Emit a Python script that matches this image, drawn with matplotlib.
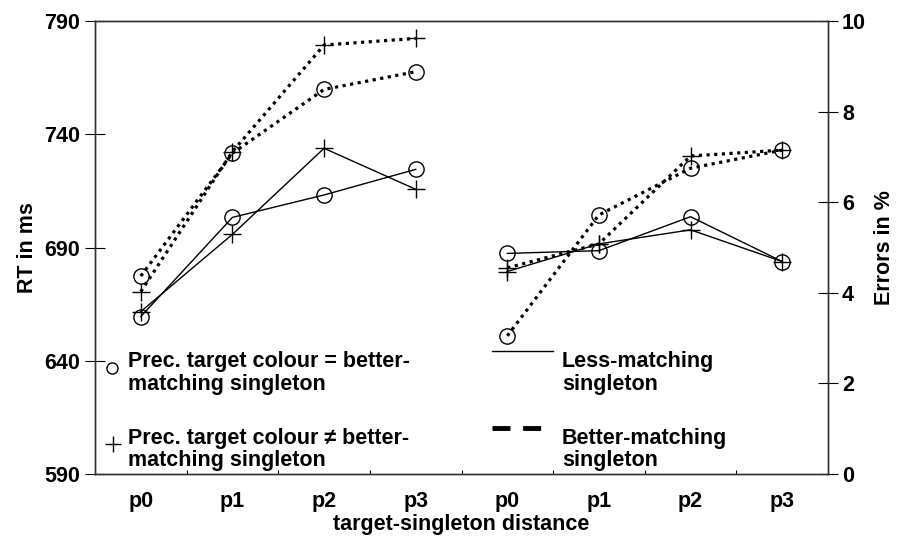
import matplotlib
matplotlib.use("Agg")
import matplotlib.pyplot as plt
from matplotlib.lines import Line2D
from matplotlib.ticker import FixedLocator

plt.rcParams['font.family'] = ['Liberation Sans', 'DejaVu Sans']
plt.rcParams['font.weight'] = 'bold'

# target-singleton distance, shown twice (RT block, then error block)
distances = ['p0', 'p1', 'p2', 'p3']
tick_labels = distances + distances

# RT in ms
rt_less_same = [659.5, 703.3, 713.2, 724.5]
rt_less_diff = [661.7, 695.8, 733.8, 715.7]
rt_better_same = [677.4, 731.6, 759.8, 767.6]
rt_better_diff = [670.5, 732.3, 779.4, 782.3]

# errors in %
err_less_same = [4.87, 4.93, 5.68, 4.69]
err_less_diff = [4.47, 5.08, 5.39, 4.69]
err_better_same = [3.05, 5.72, 6.75, 7.15]
err_better_diff = [4.55, 5.08, 7.02, 7.15]

x_rt = [0.5, 1.5, 2.5, 3.5]
x_err = [4.5, 5.5, 6.5, 7.5]

FS = 15.5

fig = plt.figure(figsize=(8.97, 5.42), dpi=100)
ax = fig.add_axes([95 / 897, 68 / 542, 733 / 897, 453 / 542])
ax2 = ax.twinx()

dotted = (0, (1.0, 1.4))
circ = dict(marker='o', ms=11, mfc='none', mec='black', mew=1.0)
plus = dict(marker='+', ms=13, mec='black', mew=1.0)

def draw(a, x, less_same, less_diff, better_same, better_diff):
    a.plot(x, less_same, color='black', lw=1.0, **circ)
    a.plot(x, less_diff, color='black', lw=1.0, **plus)
    a.plot(x, better_same, color='black', lw=2.3, linestyle=dotted,
           dash_capstyle='butt', **circ)
    a.plot(x, better_diff, color='black', lw=2.3, linestyle=dotted,
           dash_capstyle='butt', **plus)

draw(ax, x_rt, rt_less_same, rt_less_diff, rt_better_same, rt_better_diff)
draw(ax2, x_err, err_less_same, err_less_diff, err_better_same, err_better_diff)

ax.set_xlim(0, 8)
ax.set_ylim(590, 790)
ax2.set_ylim(0, 10)
ax.set_yticks([590, 640, 690, 740, 790])
ax2.set_yticks([0, 2, 4, 6, 8, 10])

ax.set_xticks(x_rt + x_err)
ax.set_xticklabels(tick_labels)
ax.xaxis.set_minor_locator(FixedLocator(range(1, 8)))
ax.tick_params(axis='x', which='major', length=0, pad=12, labelsize=FS)
ax.tick_params(axis='x', which='minor', direction='in', length=3, width=0.8)
ax.tick_params(axis='y', direction='inout', length=14, width=0.8,
               pad=4, labelsize=FS)
ax2.tick_params(axis='y', direction='inout', length=14, width=0.8,
                pad=3, labelsize=FS)

for a in (ax, ax2):
    for s in a.spines.values():
        s.set_linewidth(1.0)
        s.set_color('#333333')

ax.set_ylabel('RT in ms', fontsize=FS, fontweight='bold')
ax.yaxis.set_label_coords(-0.078, 0.5)
ax2.set_ylabel('Errors in %', fontsize=FS, fontweight='bold')
ax2.yaxis.set_label_coords(1.063, 0.5)
ax.set_xlabel('target-singleton distance', fontsize=FS, fontweight='bold',
              labelpad=2)

# legend drawn by hand inside the plot area
t = ax.transAxes
ax.add_line(Line2D([0.023], [0.234], transform=t, marker='o', ms=8,
                   mfc='none', mec='black', mew=1.0, clip_on=False))
ax.add_line(Line2D([0.025], [0.066], transform=t, marker='+', ms=12,
                   mec='black', mew=1.0, clip_on=False))
ax.text(0.045, 0.223, 'Prec. target colour = better-\nmatching singleton',
        transform=t, fontsize=FS, fontweight='bold', va='center',
        linespacing=1.1)
ax.text(0.045, 0.054, 'Prec. target colour \u2260 better-\nmatching singleton',
        transform=t, fontsize=FS, fontweight='bold', va='center',
        linespacing=1.1)

ax.add_line(Line2D([0.5416, 0.6248], [0.2715, 0.2715], transform=t,
                   color='black', lw=1.0, clip_on=False))
ax.add_line(Line2D([0.5416, 0.6112], [0.1015, 0.1015], transform=t,
                   color='black', lw=3.5, linestyle=(0, (3.7, 2.6)),
                   dash_capstyle='butt', clip_on=False))
ax.text(0.637, 0.223, 'Less-matching\nsingleton', transform=t, fontsize=FS,
        fontweight='bold', va='center', linespacing=1.1)
ax.text(0.637, 0.054, 'Better-matching\nsingleton', transform=t, fontsize=FS,
        fontweight='bold', va='center', linespacing=1.1)

fig.savefig('out.png', dpi=100)
